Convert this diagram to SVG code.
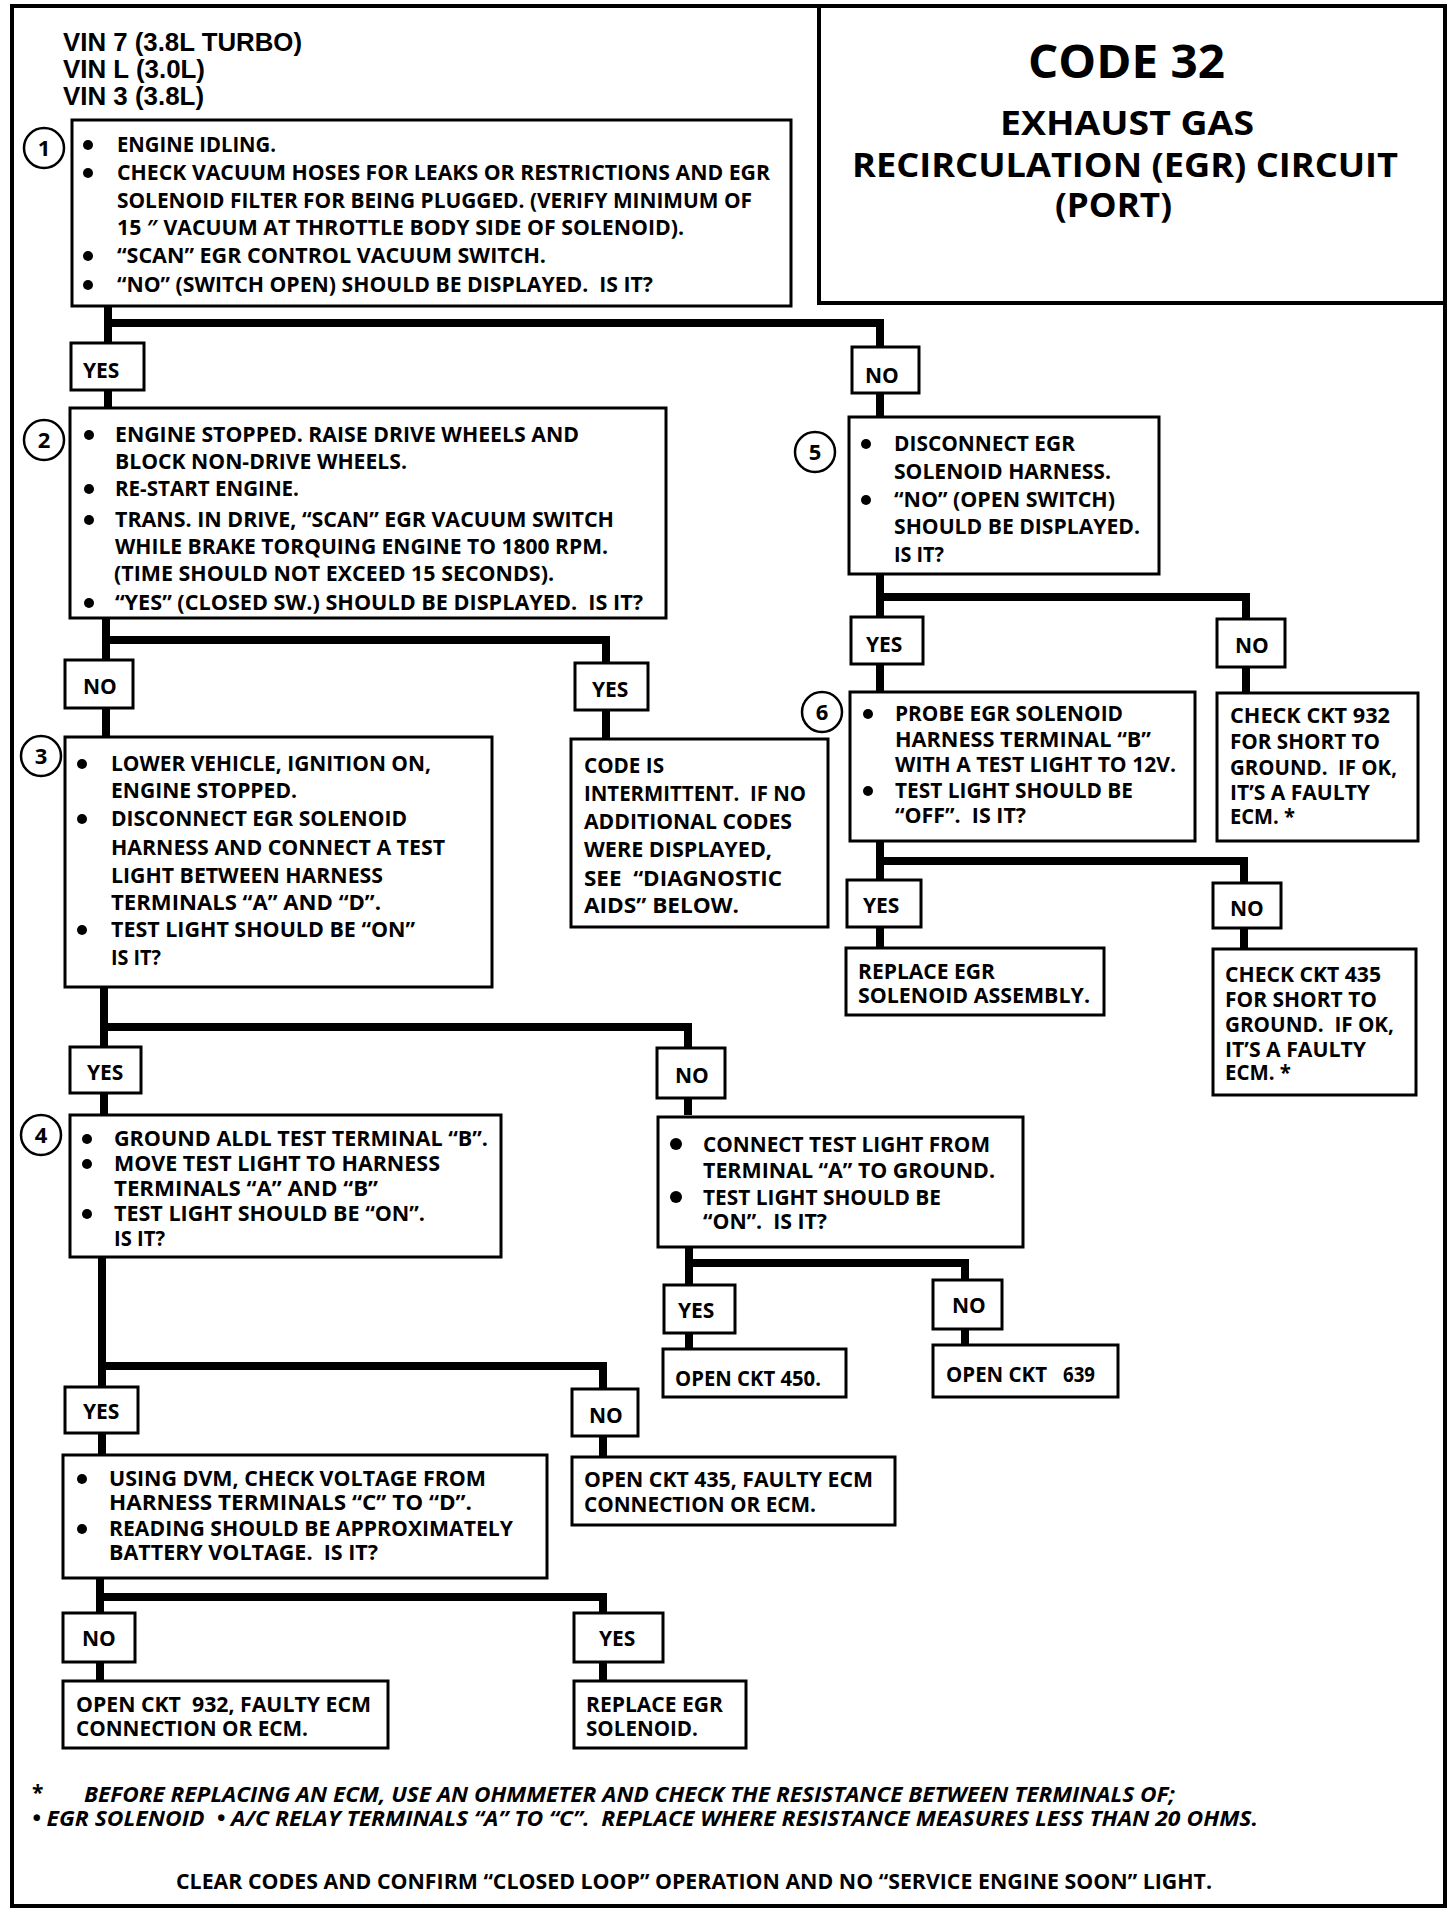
<svg xmlns="http://www.w3.org/2000/svg" width="1456" height="1918" viewBox="0 0 1456 1918">
<style>
.frame{fill:none;stroke:#000;stroke-width:4}
.box{fill:#fff;stroke:#000;stroke-width:3}
.conn{fill:none;stroke:#000;stroke-width:8;stroke-linejoin:miter;stroke-linecap:butt}
.num{fill:#fff;stroke:#000;stroke-width:2.5}
.t{font-family:"Open Sans","DejaVu Sans",sans-serif;font-weight:700;font-size:21px;fill:#000;white-space:pre}
.n{font-family:"Open Sans","DejaVu Sans",sans-serif;font-weight:700;font-size:22px;fill:#000;text-anchor:middle}
.vin{font-family:"Liberation Sans",Arial,sans-serif;font-weight:700;font-size:26px;fill:#000}
.ti{font-family:"Open Sans","DejaVu Sans",sans-serif;font-weight:700;fill:#000}
.it{font-family:"Open Sans","DejaVu Sans",sans-serif;font-weight:700;font-style:italic;font-size:21px;fill:#000;white-space:pre}
.b{fill:#000}
</style>
<rect class="frame" x="12" y="6" width="1433" height="1900"/>

<g id="title">
<rect class="frame" x="819" y="6" width="626" height="297"/>
<text class="ti" x="1028" y="78" font-size="47" textLength="197" lengthAdjust="spacingAndGlyphs">CODE 32</text>
<text class="ti" x="1000" y="135" font-size="34" textLength="254" lengthAdjust="spacingAndGlyphs">EXHAUST GAS</text>
<text class="ti" x="852" y="177" font-size="34" textLength="546" lengthAdjust="spacingAndGlyphs">RECIRCULATION (EGR) CIRCUIT</text>
<text class="ti" x="1055" y="217" font-size="34" textLength="117" lengthAdjust="spacingAndGlyphs">(PORT)</text>
</g>

<g id="vin">
<text class="vin" x="63" y="51" textLength="239" lengthAdjust="spacingAndGlyphs">VIN 7 (3.8L TURBO)</text>
<text class="vin" x="63" y="78" textLength="142" lengthAdjust="spacingAndGlyphs">VIN L (3.0L)</text>
<text class="vin" x="63" y="105" textLength="141" lengthAdjust="spacingAndGlyphs">VIN 3 (3.8L)</text>
</g>

<g id="connectors">
<path class="conn" d="M108,306 V408 M108,323 H880 V417"/>
<path class="conn" d="M106,618 V737 M106,640 H606 V739"/>
<path class="conn" d="M104,987 V1115 M104,1027 H688 V1115"/>
<path class="conn" d="M689,1247 V1349 M689,1263 H965 V1345"/>
<path class="conn" d="M102,1257 V1455 M102,1366 H603 V1457"/>
<path class="conn" d="M100,1578 V1681 M100,1597 H603 V1681"/>
<path class="conn" d="M880,574 V692 M880,597 H1246 V693"/>
<path class="conn" d="M880,841 V948 M880,861 H1244 V949"/>
</g>

<g id="step1">
<circle class="num" cx="44" cy="148" r="20"/><text class="n" x="44" y="156">1</text>
<rect class="box" x="72" y="120" width="719" height="186"/>
<circle class="b" cx="88" cy="145" r="5"/><circle class="b" cx="88" cy="173" r="5"/><circle class="b" cx="88" cy="256" r="5"/><circle class="b" cx="88" cy="285" r="5"/>
<text class="t" x="117" y="152" textLength="159" lengthAdjust="spacingAndGlyphs">ENGINE IDLING.</text>
<text class="t" x="117" y="180" textLength="653" lengthAdjust="spacingAndGlyphs">CHECK VACUUM HOSES FOR LEAKS OR RESTRICTIONS AND EGR</text>
<text class="t" x="117" y="208" textLength="635" lengthAdjust="spacingAndGlyphs">SOLENOID FILTER FOR BEING PLUGGED. (VERIFY MINIMUM OF</text>
<text class="t" x="117" y="235" textLength="567" lengthAdjust="spacingAndGlyphs">15 ″ VACUUM AT THROTTLE BODY SIDE OF SOLENOID).</text>
<text class="t" x="117" y="263" textLength="429" lengthAdjust="spacingAndGlyphs">“SCAN” EGR CONTROL VACUUM SWITCH.</text>
<text class="t" x="117" y="292" textLength="536" lengthAdjust="spacingAndGlyphs">“NO” (SWITCH OPEN) SHOULD BE DISPLAYED.  IS IT?</text>
</g>

<g id="yes1"><rect class="box" x="71" y="343" width="73" height="47"/><text class="t" x="83" y="378">YES</text></g>
<g id="no1"><rect class="box" x="852" y="347" width="67" height="46"/><text class="t" x="865" y="383">NO</text></g>

<g id="step2">
<circle class="num" cx="44" cy="440" r="20"/><text class="n" x="44" y="448">2</text>
<rect class="box" x="70" y="408" width="596" height="210"/>
<circle class="b" cx="89" cy="435" r="5"/><circle class="b" cx="89" cy="489" r="5"/><circle class="b" cx="89" cy="520" r="5"/><circle class="b" cx="89" cy="603" r="5"/>
<text class="t" x="115" y="442" textLength="464" lengthAdjust="spacingAndGlyphs">ENGINE STOPPED. RAISE DRIVE WHEELS AND</text>
<text class="t" x="115" y="469" textLength="292" lengthAdjust="spacingAndGlyphs">BLOCK NON-DRIVE WHEELS.</text>
<text class="t" x="115" y="496" textLength="184" lengthAdjust="spacingAndGlyphs">RE-START ENGINE.</text>
<text class="t" x="115" y="527" textLength="499" lengthAdjust="spacingAndGlyphs">TRANS. IN DRIVE, “SCAN” EGR VACUUM SWITCH</text>
<text class="t" x="115" y="554" textLength="493" lengthAdjust="spacingAndGlyphs">WHILE BRAKE TORQUING ENGINE TO 1800 RPM.</text>
<text class="t" x="114" y="581" textLength="440" lengthAdjust="spacingAndGlyphs">(TIME SHOULD NOT EXCEED 15 SECONDS).</text>
<text class="t" x="115" y="610" textLength="528" lengthAdjust="spacingAndGlyphs">“YES” (CLOSED SW.) SHOULD BE DISPLAYED.  IS IT?</text>
</g>

<g id="no2"><rect class="box" x="65" y="660" width="68" height="48"/><text class="t" x="83" y="694">NO</text></g>
<g id="yes2"><rect class="box" x="575" y="663" width="73" height="47"/><text class="t" x="592" y="697">YES</text></g>

<g id="step3">
<circle class="num" cx="41" cy="756" r="20"/><text class="n" x="41" y="764">3</text>
<rect class="box" x="65" y="737" width="427" height="250"/>
<circle class="b" cx="82" cy="764" r="5"/><circle class="b" cx="82" cy="819" r="5"/><circle class="b" cx="82" cy="930" r="5"/>
<text class="t" x="111" y="771" textLength="320" lengthAdjust="spacingAndGlyphs">LOWER VEHICLE, IGNITION ON,</text>
<text class="t" x="111" y="798" textLength="186" lengthAdjust="spacingAndGlyphs">ENGINE STOPPED.</text>
<text class="t" x="111" y="826" textLength="296" lengthAdjust="spacingAndGlyphs">DISCONNECT EGR SOLENOID</text>
<text class="t" x="111" y="855" textLength="334" lengthAdjust="spacingAndGlyphs">HARNESS AND CONNECT A TEST</text>
<text class="t" x="111" y="883" textLength="272" lengthAdjust="spacingAndGlyphs">LIGHT BETWEEN HARNESS</text>
<text class="t" x="111" y="910" textLength="270" lengthAdjust="spacingAndGlyphs">TERMINALS “A” AND “D”.</text>
<text class="t" x="111" y="937" textLength="304" lengthAdjust="spacingAndGlyphs">TEST LIGHT SHOULD BE “ON”</text>
<text class="t" x="111" y="965" textLength="50" lengthAdjust="spacingAndGlyphs">IS IT?</text>
</g>

<g id="intermittent">
<rect class="box" x="571" y="739" width="257" height="188"/>
<text class="t" x="584" y="773" textLength="80" lengthAdjust="spacingAndGlyphs">CODE IS</text>
<text class="t" x="584" y="801" textLength="222" lengthAdjust="spacingAndGlyphs">INTERMITTENT.  IF NO</text>
<text class="t" x="584" y="829" textLength="208" lengthAdjust="spacingAndGlyphs">ADDITIONAL CODES</text>
<text class="t" x="584" y="857" textLength="188" lengthAdjust="spacingAndGlyphs">WERE DISPLAYED,</text>
<text class="t" x="584" y="886" textLength="198" lengthAdjust="spacingAndGlyphs">SEE  “DIAGNOSTIC</text>
<text class="t" x="584" y="913" textLength="155" lengthAdjust="spacingAndGlyphs">AIDS” BELOW.</text>
</g>

<g id="yes3"><rect class="box" x="70" y="1047" width="71" height="46"/><text class="t" x="87" y="1080">YES</text></g>
<g id="no3"><rect class="box" x="657" y="1048" width="68" height="50"/><text class="t" x="675" y="1083">NO</text></g>

<g id="step4">
<circle class="num" cx="41" cy="1135" r="20"/><text class="n" x="41" y="1143">4</text>
<rect class="box" x="70" y="1115" width="431" height="142"/>
<circle class="b" cx="87" cy="1139" r="5"/><circle class="b" cx="87" cy="1164" r="5"/><circle class="b" cx="87" cy="1214" r="5"/>
<text class="t" x="114" y="1146" textLength="374" lengthAdjust="spacingAndGlyphs">GROUND ALDL TEST TERMINAL “B”.</text>
<text class="t" x="114" y="1171" textLength="326" lengthAdjust="spacingAndGlyphs">MOVE TEST LIGHT TO HARNESS</text>
<text class="t" x="114" y="1196" textLength="264" lengthAdjust="spacingAndGlyphs">TERMINALS “A” AND “B”</text>
<text class="t" x="114" y="1221" textLength="311" lengthAdjust="spacingAndGlyphs">TEST LIGHT SHOULD BE “ON”.</text>
<text class="t" x="114" y="1246" textLength="51" lengthAdjust="spacingAndGlyphs">IS IT?</text>
</g>

<g id="connect">
<rect class="box" x="658" y="1117" width="365" height="130"/>
<circle class="b" cx="676" cy="1144" r="6"/><circle class="b" cx="676" cy="1197" r="6"/>
<text class="t" x="703" y="1152" textLength="287" lengthAdjust="spacingAndGlyphs">CONNECT TEST LIGHT FROM</text>
<text class="t" x="703" y="1178" textLength="292" lengthAdjust="spacingAndGlyphs">TERMINAL “A” TO GROUND.</text>
<text class="t" x="703" y="1205" textLength="238" lengthAdjust="spacingAndGlyphs">TEST LIGHT SHOULD BE</text>
<text class="t" x="703" y="1229" textLength="124" lengthAdjust="spacingAndGlyphs">“ON”.  IS IT?</text>
</g>

<g id="yes4"><rect class="box" x="664" y="1285" width="71" height="48"/><text class="t" x="678" y="1318">YES</text></g>
<g id="no4"><rect class="box" x="933" y="1280" width="69" height="49"/><text class="t" x="952" y="1313">NO</text></g>
<g id="open450"><rect class="box" x="663" y="1349" width="183" height="48"/><text class="t" x="675" y="1386" textLength="146" lengthAdjust="spacingAndGlyphs">OPEN CKT 450.</text></g>
<g id="open639"><rect class="box" x="933" y="1345" width="185" height="52"/><text class="t" x="946" y="1382" textLength="101" lengthAdjust="spacingAndGlyphs">OPEN CKT</text><text class="t" x="1063" y="1382" font-size="18" textLength="32" lengthAdjust="spacingAndGlyphs">639</text></g>

<g id="yes5"><rect class="box" x="65" y="1387" width="73" height="46"/><text class="t" x="83" y="1419">YES</text></g>
<g id="no5"><rect class="box" x="572" y="1389" width="66" height="47"/><text class="t" x="589" y="1423">NO</text></g>

<g id="dvm">
<rect class="box" x="63" y="1455" width="484" height="123"/>
<circle class="b" cx="82" cy="1479" r="5"/><circle class="b" cx="82" cy="1529" r="5"/>
<text class="t" x="109" y="1486" textLength="377" lengthAdjust="spacingAndGlyphs">USING DVM, CHECK VOLTAGE FROM</text>
<text class="t" x="109" y="1510" textLength="363" lengthAdjust="spacingAndGlyphs">HARNESS TERMINALS “C” TO “D”.</text>
<text class="t" x="109" y="1536" textLength="404" lengthAdjust="spacingAndGlyphs">READING SHOULD BE APPROXIMATELY</text>
<text class="t" x="109" y="1560" textLength="269" lengthAdjust="spacingAndGlyphs">BATTERY VOLTAGE.  IS IT?</text>
</g>

<g id="open435">
<rect class="box" x="572" y="1457" width="323" height="68"/>
<text class="t" x="584" y="1487" textLength="289" lengthAdjust="spacingAndGlyphs">OPEN CKT 435, FAULTY ECM</text>
<text class="t" x="584" y="1512" textLength="232" lengthAdjust="spacingAndGlyphs">CONNECTION OR ECM.</text>
</g>

<g id="no6"><rect class="box" x="63" y="1613" width="72" height="49"/><text class="t" x="82" y="1646">NO</text></g>
<g id="yes6"><rect class="box" x="574" y="1613" width="89" height="49"/><text class="t" x="599" y="1646">YES</text></g>

<g id="open932">
<rect class="box" x="63" y="1681" width="325" height="67"/>
<text class="t" x="76" y="1712" textLength="295" lengthAdjust="spacingAndGlyphs">OPEN CKT  932, FAULTY ECM</text>
<text class="t" x="76" y="1736" textLength="232" lengthAdjust="spacingAndGlyphs">CONNECTION OR ECM.</text>
</g>

<g id="replace-solenoid">
<rect class="box" x="574" y="1681" width="172" height="67"/>
<text class="t" x="586" y="1712" textLength="137" lengthAdjust="spacingAndGlyphs">REPLACE EGR</text>
<text class="t" x="586" y="1736" textLength="112" lengthAdjust="spacingAndGlyphs">SOLENOID.</text>
</g>

<g id="step5">
<circle class="num" cx="815" cy="452" r="20"/><text class="n" x="815" y="460">5</text>
<rect class="box" x="849" y="417" width="310" height="157"/>
<circle class="b" cx="866" cy="444" r="5"/><circle class="b" cx="866" cy="500" r="5"/>
<text class="t" x="894" y="451" textLength="181" lengthAdjust="spacingAndGlyphs">DISCONNECT EGR</text>
<text class="t" x="894" y="479" textLength="217" lengthAdjust="spacingAndGlyphs">SOLENOID HARNESS.</text>
<text class="t" x="894" y="507" textLength="221" lengthAdjust="spacingAndGlyphs">“NO” (OPEN SWITCH)</text>
<text class="t" x="894" y="534" textLength="246" lengthAdjust="spacingAndGlyphs">SHOULD BE DISPLAYED.</text>
<text class="t" x="894" y="562" textLength="50" lengthAdjust="spacingAndGlyphs">IS IT?</text>
</g>

<g id="yes7"><rect class="box" x="851" y="617" width="72" height="47"/><text class="t" x="866" y="652">YES</text></g>
<g id="no7"><rect class="box" x="1217" y="619" width="68" height="48"/><text class="t" x="1235" y="653">NO</text></g>

<g id="step6">
<circle class="num" cx="822" cy="712" r="20"/><text class="n" x="822" y="720">6</text>
<rect class="box" x="850" y="692" width="345" height="149"/>
<circle class="b" cx="868" cy="714" r="5"/><circle class="b" cx="868" cy="791" r="5"/>
<text class="t" x="895" y="721" textLength="228" lengthAdjust="spacingAndGlyphs">PROBE EGR SOLENOID</text>
<text class="t" x="895" y="747" textLength="256" lengthAdjust="spacingAndGlyphs">HARNESS TERMINAL “B”</text>
<text class="t" x="895" y="772" textLength="281" lengthAdjust="spacingAndGlyphs">WITH A TEST LIGHT TO 12V.</text>
<text class="t" x="895" y="798" textLength="238" lengthAdjust="spacingAndGlyphs">TEST LIGHT SHOULD BE</text>
<text class="t" x="895" y="823" textLength="131" lengthAdjust="spacingAndGlyphs">“OFF”.  IS IT?</text>
</g>

<g id="ckt932">
<rect class="box" x="1217" y="693" width="201" height="148"/>
<text class="t" x="1230" y="723" textLength="160" lengthAdjust="spacingAndGlyphs">CHECK CKT 932</text>
<text class="t" x="1230" y="749" textLength="150" lengthAdjust="spacingAndGlyphs">FOR SHORT TO</text>
<text class="t" x="1230" y="775" textLength="167" lengthAdjust="spacingAndGlyphs">GROUND.  IF OK,</text>
<text class="t" x="1230" y="800" textLength="140" lengthAdjust="spacingAndGlyphs">IT’S A FAULTY</text>
<text class="t" x="1230" y="824" textLength="65" lengthAdjust="spacingAndGlyphs">ECM. *</text>
</g>

<g id="yes8"><rect class="box" x="847" y="880" width="74" height="47"/><text class="t" x="863" y="913">YES</text></g>
<g id="no8"><rect class="box" x="1213" y="883" width="68" height="45"/><text class="t" x="1230" y="916">NO</text></g>

<g id="replace-assembly">
<rect class="box" x="846" y="948" width="258" height="67"/>
<text class="t" x="858" y="979" textLength="137" lengthAdjust="spacingAndGlyphs">REPLACE EGR</text>
<text class="t" x="858" y="1003" textLength="232" lengthAdjust="spacingAndGlyphs">SOLENOID ASSEMBLY.</text>
</g>

<g id="ckt435">
<rect class="box" x="1213" y="949" width="203" height="146"/>
<text class="t" x="1225" y="982" textLength="156" lengthAdjust="spacingAndGlyphs">CHECK CKT 435</text>
<text class="t" x="1225" y="1007" textLength="152" lengthAdjust="spacingAndGlyphs">FOR SHORT TO</text>
<text class="t" x="1225" y="1032" textLength="169" lengthAdjust="spacingAndGlyphs">GROUND.  IF OK,</text>
<text class="t" x="1225" y="1057" textLength="141" lengthAdjust="spacingAndGlyphs">IT’S A FAULTY</text>
<text class="t" x="1225" y="1080" textLength="66" lengthAdjust="spacingAndGlyphs">ECM. *</text>
</g>

<g id="footer">
<text class="t" x="32" y="1800" font-size="26">*</text>
<text class="it" x="84" y="1802" textLength="1091" lengthAdjust="spacingAndGlyphs">BEFORE REPLACING AN ECM, USE AN OHMMETER AND CHECK THE RESISTANCE BETWEEN TERMINALS OF;</text>
<text class="it" x="32" y="1826" textLength="1226" lengthAdjust="spacingAndGlyphs">• EGR SOLENOID  • A/C RELAY TERMINALS “A” TO “C”.  REPLACE WHERE RESISTANCE MEASURES LESS THAN 20 OHMS.</text>
<text class="t" x="176" y="1889" font-size="20" textLength="1036" lengthAdjust="spacingAndGlyphs">CLEAR CODES AND CONFIRM “CLOSED LOOP” OPERATION AND NO “SERVICE ENGINE SOON” LIGHT.</text>
</g>
</svg>
